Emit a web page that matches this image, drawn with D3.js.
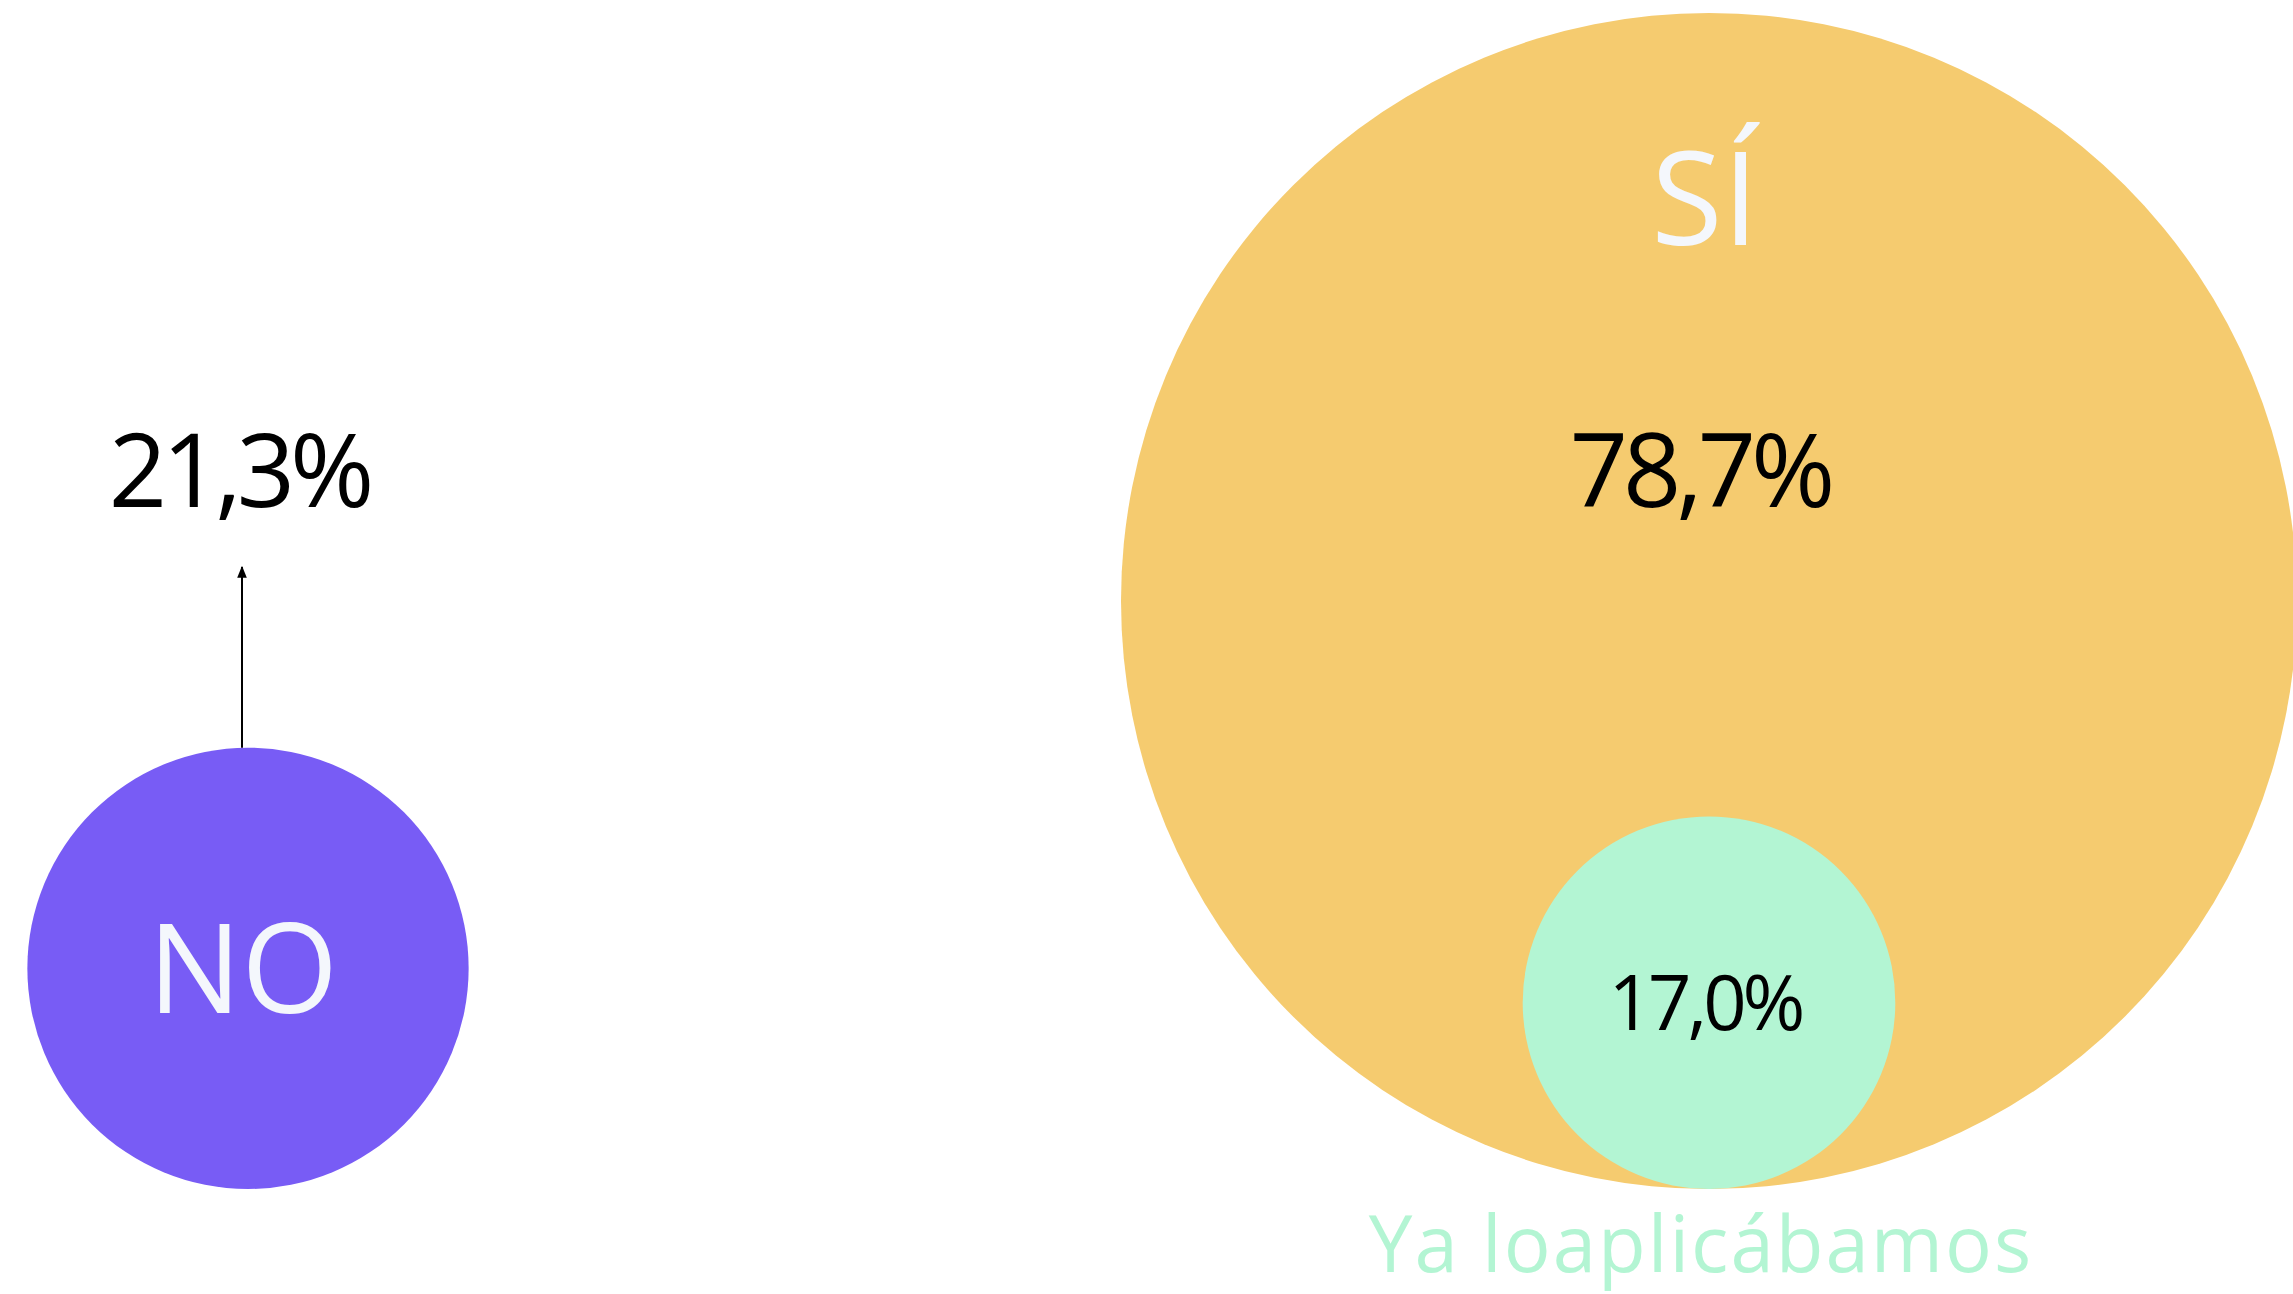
<!DOCTYPE html>
<head>
	<meta charset="UTF-8">
	<script src="https://d3js.org/d3.v7.min.js"></script>
	<title>¿Lo aplicaron?</title>
<style>
	body{
		margin: 0;
		background-color: #ffffff;
	}
	svg{
		display: block;
		font-family: 'Open Sans', sans-serif;
	}
</style>
</head>

<body>
	<svg width=2293 height=1294></svg>
</body>

<script>
	// Data
	var categories = ["NO", "SÍ"];
	var values = [21.3, 78.7];
	var colors = ["#785cf5", "#f5cb6f"];
	var subCategory = "Ya loaplicábamos";
	var subValue = 17.0;
	var subColor = "#b3f5d3";

	var white = "#f4f7fc";

	var svg = d3.select("svg");

	// Spanish number format (decimal comma)
	var es = d3.formatLocale({decimal: ",", thousands: ".", grouping: [3], currency: ["", " €"]});
	var fmt = function(v) { return es.format(".1f")(v) + "%"; };

	// Scales
	var x = d3.scalePoint()
				.domain(categories)
				.range([248, 1709]);
	var r = d3.scalePow()
				.exponent(0.75)
				.domain([0, d3.max(values)])
				.range([0, 588]);
	var baseY = 1189;   // circles sit on a common bottom line
	var labelY = 507;   // baseline of the percentage labels

	var data = categories.map(function(c, i) { return {name: c, value: values[i], color: colors[i]}; });

	// Arrow marker
	svg.append("defs").append("marker")
			.attr("id", "arrow")
			.attr("viewBox", "0 0 10 10")
			.attr("refX", 9)
			.attr("refY", 5)
			.attr("markerWidth", 6)
			.attr("markerHeight", 6)
			.attr("orient", "auto")
			.append("path")
			.attr("d", "M0,1 L10,5 L0,9 Z")
			.attr("fill", "#000");

	// Main circles
	svg.append("g")
		.selectAll("circle")
		.data(data).enter()
		.append("circle")
		.attr("cx", function(d) { return x(d.name); })
		.attr("cy", function(d) { return baseY - r(d.value); })
		.attr("r", function(d) { return r(d.value); })
		.style("fill", function(d) { return d.color; });

	// Sub circle inside SÍ
	svg.append("circle")
		.attr("cx", x("SÍ"))
		.attr("cy", baseY - r(subValue))
		.attr("r", r(subValue))
		.style("fill", subColor);

	// Arrow from NO circle up to its label
	svg.append("line")
		.attr("x1", x("NO") - 6)
		.attr("x2", x("NO") - 6)
		.attr("y1", baseY - 2 * r(21.3))
		.attr("y2", labelY + 60)
		.attr("stroke", "#000")
		.attr("stroke-width", 2)
		.attr("marker-end", "url(#arrow)");

	// Percentage labels
	svg.append("g")
		.selectAll("text")
		.data(data).enter()
		.append("text")
		.attr("x", function(d) { return x(d.name) - 9; })
		.attr("y", labelY)
		.attr("text-anchor", "middle")
		.attr("font-size", 102)
		.attr("letter-spacing", -5)
		.attr("fill", "#000")
		.text(function(d) { return fmt(d.value); });

	// Category names
	svg.append("text")
		.attr("x", x("NO") - 5)
		.attr("y", baseY - r(21.3))
		.attr("dy", "0.36em")
		.attr("text-anchor", "middle")
		.attr("font-size", 124)
		.attr("fill", white)
		.text("NO");
	svg.append("text")
		.attr("x", x("SÍ") - 4)
		.attr("y", 245)
		.attr("text-anchor", "middle")
		.attr("font-size", 130)
		.attr("fill", white)
		.text("SÍ");

	// Sub circle labels
	svg.append("text")
		.attr("x", x("SÍ") - 4)
		.attr("y", baseY - r(subValue))
		.attr("dy", "0.36em")
		.attr("text-anchor", "middle")
		.attr("font-size", 76)
		.attr("letter-spacing", -4)
		.attr("fill", "#000")
		.text(fmt(subValue));
	svg.append("text")
		.attr("x", x("SÍ") - 8)
		.attr("y", 1272)
		.attr("text-anchor", "middle")
		.attr("font-size", 78)
		.attr("letter-spacing", 2)
		.attr("fill", subColor)
		.text(subCategory);
</script>
